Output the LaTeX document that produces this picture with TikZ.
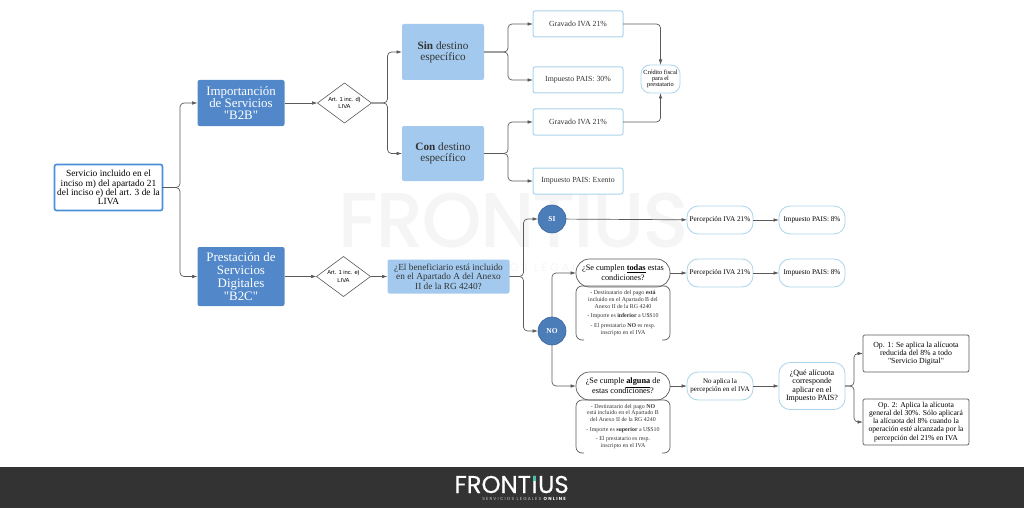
\documentclass[tikz,border=0pt]{standalone}
\usepackage{fontspec}
\setmainfont{Liberation Serif}
\newfontfamily\quotefont{Liberation Serif}
\newfontfamily\labelfont{Liberation Sans}
\newfontfamily\logofont[FakeBold=0.6]{Poppins}
\newfontfamily\markfont[FakeBold=2.2]{Poppins}
\newfontfamily\logospaced[LetterSpace=28]{Poppins}
\usetikzlibrary{arrows.meta,positioning,shapes.geometric}
\definecolor{bluedark}{HTML}{5288C9}
\definecolor{bluelight}{HTML}{A3CAEE}
\definecolor{blueline}{HTML}{4A90D9}
\definecolor{paleline}{HTML}{AAD3EA}
\definecolor{linegray}{HTML}{5A5A5A}
\definecolor{bandgray}{HTML}{333333}
\definecolor{markgray}{HTML}{F5F5F5}
\definecolor{inktext}{HTML}{333333}
\definecolor{logoteal}{HTML}{45C4B0}
\newcommand{\sized}[2]{\fontsize{#1}{#2}\selectfont}
\newcommand{\qm}{{\quotefont"}}
\tikzset{
  box/.style={rectangle, outer sep=0pt, inner sep=1pt, align=center, text=inktext},
  mainbox/.style={box, fill=bluedark, rounded corners=2pt, text=white, minimum width=87pt},
  lightbox/.style={box, fill=bluelight, rounded corners=2pt},
  rootbox/.style={box, fill=white, draw=blueline, line width=1.7pt, rounded corners=2pt, minimum width=108pt, minimum height=46pt, text=black},
  resultbox/.style={box, fill=white, draw=paleline, line width=1pt, rounded corners=2pt, minimum width=90pt, minimum height=26pt, font=\sized{7.8}{9}},
  pill/.style={box, fill=white, draw=paleline, line width=.8pt, rounded corners=11pt, minimum width=66pt, minimum height=28pt, text=black},
  ask/.style={box, fill=white, draw=linegray, line width=.7pt, rounded corners=13.5pt, minimum width=94pt, minimum height=28pt, text=black, font=\sized{8.3}{9.8}},
  condbox/.style={box, minimum width=94pt, font=\sized{5.9}{6.7}},
  condline/.style={draw=linegray, line width=.7pt, rounded corners=6pt},
  opbox/.style={box, fill=white, draw=linegray, line width=.7pt, rounded corners=2pt, minimum width=106pt, text=black},
  rule/.style={diamond, aspect=1.35, draw=linegray, line width=.6pt, fill=white, outer sep=0pt, inner sep=0pt, minimum width=54pt, minimum height=40pt, align=center, font=\labelfont\sized{5.8}{7.4}},
  answer/.style={circle, fill=bluedark!92!black, draw=bluedark!75!black, line width=.6pt, outer sep=0pt, inner sep=0pt, minimum size=28pt, text=white, font=\bfseries\sized{7.5}{8}},
  logopart/.style={inner sep=0pt, outer sep=0pt, text=white, font=\logofont\sized{24.3}{26}},
  arrow/.style={-{Latex[length=5.5pt,width=3.6pt]}, draw=linegray, line width=.7pt, rounded corners=4pt},
}
\begin{document}
\begin{tikzpicture}[x=1pt, y=-1pt]
  \useasboundingbox (0,0) rectangle (1024,508);

  % watermark and footer
  \node[anchor=center, text=markgray, font=\markfont\sized{75}{78}] (mark) at (513,220) {FRONTIUS};
  \node[text=markgray, font=\logospaced\sized{11}{12}] (marksub) at (551,268) {SERVICIOS LEGALES ONLINE};
  \fill[bandgray] (0,467) rectangle (1024,508);
  \node[logopart, anchor=base west] (logofront) at (454.5,493) {FRONT};
  \node[logopart, anchor=base west, xshift=.6pt] (logoi) at (logofront.base east) {I};
  \node[logopart, anchor=base west, xshift=.6pt] (logous) at (logoi.base east) {US};
  \fill[logoteal] ([xshift=-1.7pt]logoi.north) rectangle ([xshift=1.7pt,yshift=-5pt]logoi.north);
  \node[text=white!70!bandgray, font=\logospaced\sized{4.4}{5}] (logosub) at (524,499) {SERVICIOS LEGALES \textcolor{white}{\bfseries ONLINE}};

  % left side
  \node[rootbox, font=\sized{9.4}{9.3}] (root) at (108.5,187.5) {Servicio incluido en el\\inciso m) del apartado 21\\del inciso e) del art. 3 de la\\LIVA};
  \node[mainbox, minimum height=46pt, font=\sized{12.9}{12}] (b2b) at (241,103) {Importanción\\de Servicios\\\qm B2B\qm};
  \node[mainbox, below=121pt of b2b, minimum height=59pt, font=\sized{12.9}{12.8}] (b2c) {Prestación de\\Servicios\\Digitales\\\qm B2C\qm};
  \node[rule, right=33pt of b2b] (ruleone) {Art. 1 inc. d)\\LIVA};
  \node[rule, right=32pt of b2c] (ruletwo) {Art. 1 inc. e)\\LIVA};
  \node[lightbox, right=17pt of ruletwo, minimum width=122pt, minimum height=34pt, font=\sized{9.3}{9.4}] (benef) {¿El beneficiario está incluido\\en el Apartado A del Anexo\\II de la RG 4240?};

  % upper branch
  \node[lightbox, minimum width=82pt, minimum height=56pt, font=\sized{11.2}{11}] (sin) at (443,52) {\textbf{Sin} destino\\específico};
  \node[lightbox, below=46pt of sin, minimum width=82pt, minimum height=55pt, font=\sized{11.2}{11}] (con) {\textbf{Con} destino\\específico};
  \node[resultbox] (gravone) at (578,24) {Gravado IVA 21\%};
  \node[resultbox, below=30pt of gravone] (paistreinta) {Impuesto PAIS: 30\%};
  \node[resultbox, below=16pt of paistreinta] (gravtwo) {Gravado IVA 21\%};
  \node[resultbox, below=33pt of gravtwo] (exento) {Impuesto PAIS: Exento};
  \node[pill, minimum width=39pt, rounded corners=9pt, font=\sized{6.3}{6.3}] (credito) at (660.5,79) {Crédito fiscal\\para el\\prestatario};

  % lower branch
  \node[answer] (si) at (552,219) {SI};
  \node[answer, below=84pt of si] (no) {NO};
  \node[pill, font=\sized{7.2}{9}] (percone) at (720,220) {Percepción IVA 21\%};
  \node[pill, right=26pt of percone, font=\sized{7.2}{9}] (paisone) {Impuesto PAIS: 8\%};
  \node[pill, below=25pt of percone, font=\sized{7.2}{9}] (perctwo) {Percepción IVA 21\%};
  \node[pill, right=26pt of perctwo, font=\sized{7.2}{9}] (paistwo) {Impuesto PAIS: 8\%};
  \node[ask, left=17pt of perctwo] (todas) {¿Se cumplen \underline{\textbf{todas}} estas\\condiciones?};
  \node[condbox, below=-1pt of todas, minimum height=54pt] (condone) {- Destinatario del pago \textbf{está}\\incluido en el Apartado B del\\Anexo II de la RG 4240\\[3pt]- Importe es \textbf{inferior} a U\$S10\\[3pt]- El prestatario \textbf{NO} es resp.\\inscripto en el IVA};
  \node[ask, below=32pt of condone] (alguna) {¿Se cumple \underline{\textbf{alguna}} de\\estas condiciones?};
  \node[condbox, below=0pt of alguna, minimum height=53pt] (condtwo) {- Destinatario del pago \textbf{NO}\\está incluido en el Apartado B\\del Anexo II de la RG 4240\\[3pt]- Importe es \textbf{superior} a U\$S10\\[3pt]- El prestatario es resp.\\inscripto en el IVA};
  \node[pill, right=17pt of alguna, font=\sized{7}{8.2}] (noaplica) {No aplica la\\percepción en el IVA};
  \node[pill, right=26pt of noaplica, minimum height=47pt, font=\sized{8}{8.5}] (cual) {¿Qué alícuota\\corresponde\\aplicar en el\\Impuesto PAIS?};
  \node[opbox, minimum height=37pt, font=\sized{7.8}{8.1}] (opone) at (916,353.5) {Op. 1: Se aplica la alícuota\\reducida del 8\% a todo\\\qm Servicio Digital\qm};
  \node[opbox, below=27pt of opone, minimum height=46pt, font=\sized{7.6}{8.1}] (optwo) {Op. 2: Aplica la alícuota\\general del 30\%. Sólo aplicará\\la alícuota del 8\% cuando la\\operación esté alcanzada por la\\percepción del 21\% en IVA};

  \draw[condline] ([xshift=8pt]condone.south west) -- (condone.south west) -- (condone.north west) -- (condone.north east) -- (condone.south east) -- ([xshift=-8pt]condone.south east);
  \draw[condline] ([xshift=8pt]condtwo.south west) -- (condtwo.south west) -- (condtwo.north west) -- (condtwo.north east) -- (condtwo.south east) -- ([xshift=-8pt]condtwo.south east);

  \draw[arrow] (root.east) -- ++(17.5,0) |- (b2b.west);
  \draw[arrow] (root.east) -- ++(17.5,0) |- (b2c.west);
  \draw[arrow] (b2b) -- (ruleone);
  \draw[arrow] (b2c) -- (ruletwo);
  \draw[arrow] (ruletwo) -- (benef);
  \draw[arrow] (ruleone.east) -- ++(16,0) |- (sin.west);
  \draw[arrow] (ruleone.east) -- ++(16,0) |- (con.west);
  \draw[arrow] (sin.east) -- ++(24,0) |- (gravone.west);
  \draw[arrow] (sin.east) -- ++(24,0) |- (paistreinta.west);
  \draw[arrow] (con.east) -- ++(24,0) |- (gravtwo.west);
  \draw[arrow] (con.east) -- ++(24,0) |- (exento.west);
  \draw[arrow] (gravone.east) -| (credito.north);
  \draw[arrow] (gravtwo.east) -| (credito.south);
  \draw[arrow] (benef.east) -- ++(14,0) |- (si.west);
  \draw[arrow] (benef.east) -- ++(14,0) |- (no.west);
  \draw[arrow] (si) -- (percone);
  \draw[arrow] (percone) -- (paisone);
  \draw[arrow] (no.north) |- (todas.west);
  \draw[arrow] (no.south) |- (alguna.west);
  \draw[arrow] (todas) -- (perctwo);
  \draw[arrow] (perctwo) -- (paistwo);
  \draw[arrow] (alguna) -- (noaplica);
  \draw[arrow] (noaplica) -- (cual);
  \draw[arrow] (cual.east) -- ++(9,0) |- (opone.west);
  \draw[arrow] (cual.east) -- ++(9,0) |- (optwo.west);
\end{tikzpicture}
\end{document}
